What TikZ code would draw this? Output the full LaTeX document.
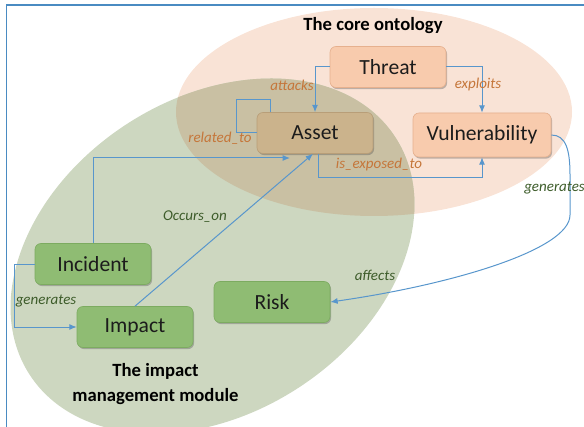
\documentclass[tikz,border=0pt]{standalone}
\usepackage{fontspec}
\setmainfont{Carlito}
\usetikzlibrary{shadows,arrows.meta,calc}
\definecolor{orangebg}{HTML}{F9E3D6}
\definecolor{greenbg}{HTML}{CDD7C0}
\definecolor{overlapbg}{HTML}{C9C0A3}
\definecolor{nodeorange}{HTML}{F8CBAD}
\definecolor{nodeorangeb}{HTML}{E6B08E}
\definecolor{assetfill}{HTML}{CBB38C}
\definecolor{assetb}{HTML}{B89E78}
\definecolor{greennode}{HTML}{8FBC73}
\definecolor{greennodeb}{HTML}{7CAB60}
\definecolor{labelorange}{HTML}{C5763A}
\definecolor{labelgreen}{HTML}{3D5C2A}
\definecolor{connblue}{HTML}{5896CC}
\definecolor{frameblue}{HTML}{4A8BC2}
\definecolor{textdark}{HTML}{1C1C1C}
\tikzset{
  box/.style={rounded corners=4.5pt, minimum height=30.75pt, minimum width=87pt,
    inner sep=0pt, line width=0.5pt, text=textdark,
    font=\fontsize{16.2}{19}\selectfont,
    drop shadow={shadow xshift=0.8pt, shadow yshift=-1.2pt, opacity=0.35, fill=black!70}},
  orangebox/.style={box, fill=nodeorange, draw=nodeorangeb},
  assetbox/.style={box, fill=assetfill, draw=assetb},
  greenbox/.style={box, fill=greennode, draw=greennodeb},
  conn/.style={draw=connblue, line width=0.75pt},
  arr/.style={conn, -{Latex[length=5.5pt,width=4.5pt]}},
  olab/.style={text=labelorange, font=\fontsize{11.25}{13}\selectfont\itshape, inner sep=0pt},
  glab/.style={text=labelgreen, font=\fontsize{11.25}{13}\selectfont\itshape, inner sep=0pt},
  title/.style={text=black, font=\fontsize{14}{18.75}\selectfont\bfseries, inner sep=0pt, align=center}
}
\begin{document}
\begin{tikzpicture}[x=0.75pt,y=-0.75pt]
\useasboundingbox (0,0) rectangle (584,427);
% background ellipses
\fill[orangebg] (374,112) ellipse [x radius=148.5pt, y radius=78pt];
\begin{scope}[shift={(212.5,256)}, rotate=33]
  \fill[greenbg] (0,0) ellipse [x radius=163.5pt, y radius=118pt];
\end{scope}
\begin{scope}
  \clip (374,112) ellipse [x radius=148.5pt, y radius=78pt];
  \begin{scope}[shift={(212.5,256)}, rotate=33]
    \fill[overlapbg] (0,0) ellipse [x radius=163.5pt, y radius=118pt];
  \end{scope}
\end{scope}
% frame
\draw[frameblue, line width=1.1pt] (6.5,427) -- (6.5,5) -- (584,5);
% titles
\node[title] (coretitle) at (373,26) {The core ontology};
\node[title] (imptitle) at (155.5,384.5) {The impact\\management module};
% nodes
\node[orangebox] (threat) at (388,67) {Threat};
\node[assetbox] (asset) at (315,133) {Asset};
\node[orangebox, minimum width=103.5pt, minimum height=33pt] (vuln) at (482,135) {Vulnerability};
\node[greenbox] (incident) at (93,264) {Incident};
\node[greenbox] (impact) at (135,327) {Impact};
\node[greenbox] (risk) at (272,302) {Risk};
\coordinate (incend) at (290,158);
% connectors
\draw[arr] (threat.west) -| (asset.north);
\draw[arr] (threat.east) -| (vuln.north);
\draw[conn] ([xshift=10.5pt]asset.north west) -- ++(0,-13) -- ++(-34,0) |- (asset.west);
\draw[arr] ([xshift=2.25pt]asset.south) -- ++(0,24) -| (vuln.south);
\draw[arr] (incident.north) |- (incend);
\draw[arr] (impact.north) -- ([xshift=-1.5pt]asset.south);
\draw[arr] (incident.west) -- ++(-20,0) |- (impact.west);
\draw[arr] (vuln.east) .. controls (566,135) and (570,150) .. (570,175) -- (570,215)
  .. controls (570,250) and (450,285) .. (risk.east);
% labels
\node[olab] (lattacks) at (292,85) {attacks};
\node[olab] (lexploits) at (478,85) {exploits};
\node[olab] (lrelated) at (220,138) {related\_to};
\node[olab] (lexposed) at (379,165) {is\_exposed\_to};
\node[glab, anchor=west] (lgen1) at (524,188) {generates};
\node[glab] (loccurs) at (195,217) {Occurs\_on};
\node[glab] (laffects) at (375,275) {affects};
\node[glab] (lgen2) at (46,301) {generates};
\end{tikzpicture}
\end{document}
